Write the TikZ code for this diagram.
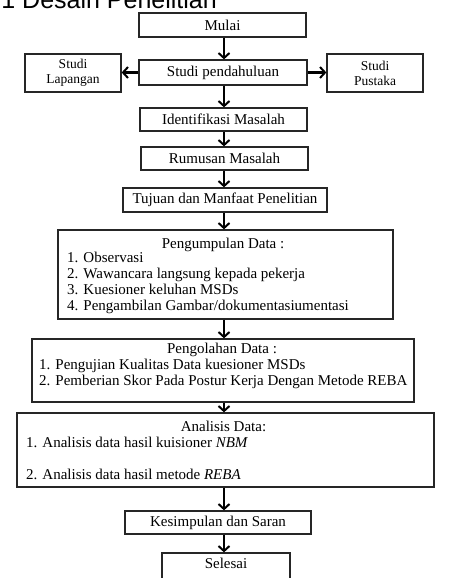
\documentclass[tikz,border=0pt]{standalone}
\usepackage{fontspec}
\setmainfont{Liberation Serif}
\newfontfamily\headfont{Liberation Sans}
\usetikzlibrary{arrows.meta}
\begin{document}
\begin{tikzpicture}[x=1pt,y=-1pt,
  box/.style={draw=black!85, line width=1.3pt, inner sep=0pt, font=\fontsize{15}{16}\selectfont},
  smallbox/.style={box, align=center, font=\fontsize{13.5}{15}\selectfont},
  txt/.style={inner sep=0pt, anchor=base west, font=\fontsize{15}{16}\selectfont},
  ttl/.style={inner sep=0pt, anchor=base, font=\fontsize{15}{16}\selectfont},
  arr/.style={line width=2pt, -{Straight Barb[length=5pt,width=11pt,line width=2pt]}}]
\useasboundingbox (0,0) rectangle (448,578);
\clip (0,0) rectangle (448,578);
\fill[white] (0,0) rectangle (448,578);
\coordinate (ax) at (224,0);

% heading (cut off at the top, as in the reference)
\node[anchor=base east, inner sep=0pt, font=\headfont\fontsize{25}{25}\selectfont] (head) at (217,8.5) {3.1 Desain Penelitian};

% simple boxes
\node[box, minimum width=167, minimum height=24] (mulai) at (222.5,25) {Mulai};
\node[box, minimum width=168, minimum height=25] (pend) at (223,72.5) {Studi pendahuluan};
\node[smallbox, minimum width=96, minimum height=38] (lap) at (73,73) {Studi\\Lapangan};
\node[smallbox, minimum width=96, minimum height=38] (pus) at (375,73) {Studi\\Pustaka};
\node[box, minimum width=167, minimum height=23] (ident) at (223.5,119.5) {Identifikasi Masalah};
\node[box, minimum width=167, minimum height=23] (rum) at (224.5,158.5) {Rumusan Masalah};
\node[box, minimum width=204, minimum height=24] (tuj) at (225,200) {Tujuan dan Manfaat Penelitian};

% Pengumpulan Data
\node[box, minimum width=335, minimum height=89] (pk) at (225.5,274.5) {};
\node[ttl] (pkT) at (223,248) {Pengumpulan Data :};
\node[txt] (pk1) at (67,262.5) {1. Observasi};
\node[txt] (pk2) at (67,278.5) {2. Wawancara langsung kepada pekerja};
\node[txt] (pk3) at (67,294.5) {3. Kuesioner keluhan MSDs};
\node[txt] (pk4) at (67,310.5) {4. Pengambilan Gambar/dokumentasiumentasi};

% Pengolahan Data
\node[box, minimum width=382, minimum height=63] (po) at (223,370.5) {};
\node[ttl] (poT) at (222,353.5) {Pengolahan Data :};
\node[txt] (po1) at (39,369.5) {1. Pengujian Kualitas Data kuesioner MSDs};
\node[txt] (po2) at (39,385.5) {2. Pemberian Skor Pada Postur Kerja Dengan Metode REBA};

% Analisis Data
\node[box, minimum width=417, minimum height=74] (an) at (225.5,450) {};
\node[ttl] (anT) at (223.5,431.5) {Analisis Data:};
\node[txt] (an1) at (26,447.5) {1. Analisis data hasil kuisioner \textit{NBM}};
\node[txt] (an2) at (26,479.5) {2. Analisis data hasil metode \textit{REBA}};

% end boxes
\node[box, minimum width=186, minimum height=23] (kes) at (218,522.5) {Kesimpulan dan Saran};
\node[box, minimum width=128, minimum height=46] (sel) at (226,576) {};
\node[ttl] (selT) at (226,568) {Selesai};

% connectors
\draw[arr] (mulai.south -| ax) -- (pend.north -| ax);
\draw[arr] (pend.west) -- (pend.west -| lap.east);
\draw[arr] (pend.east) -- (pend.east -| pus.west);
\draw[arr] (pend.south -| ax) -- (ident.north -| ax);
\draw[arr] (ident.south -| ax) -- (rum.north -| ax);
\draw[arr] (rum.south -| ax) -- (tuj.north -| ax);
\draw[arr] (tuj.south -| ax) -- (pk.north -| ax);
\draw[arr] (pk.south -| ax) -- (po.north -| ax);
\draw[arr] (po.south -| ax) -- (an.north -| ax);
\draw[arr] (an.south -| ax) -- (kes.north -| ax);
\draw[arr] (kes.south -| ax) -- (sel.north -| ax);
\end{tikzpicture}
\end{document}
